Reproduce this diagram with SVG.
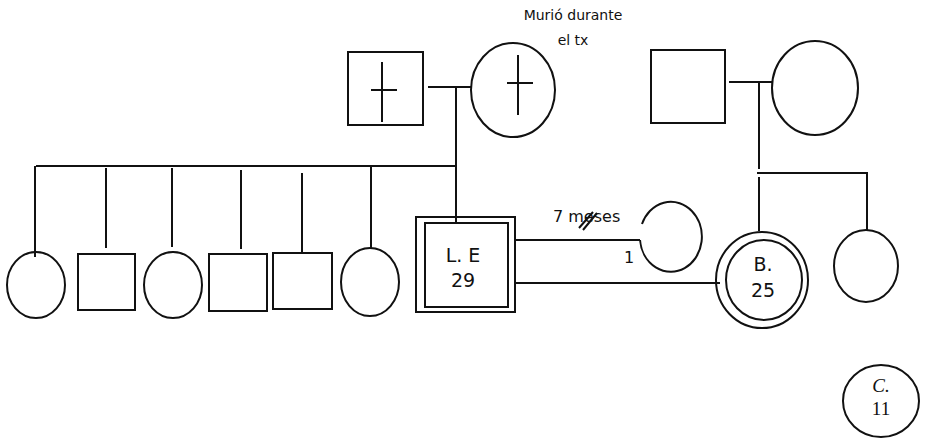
<svg xmlns="http://www.w3.org/2000/svg" width="928" height="440" viewBox="0 0 928 440">
<style>
.s{fill:none;stroke:#111;stroke-width:2}
.ln{fill:none;stroke:#111;stroke-width:2}
.t{font-family:"DejaVu Sans","Open Sans",sans-serif;fill:#111}
.c{font-family:"Liberation Serif",serif;fill:#111}
</style>
<rect width="928" height="440" fill="#fff"/>
<g id="connectors">
<path class="ln" d="M428 87H471"/>
<path class="ln" d="M456 87V223"/>
<path class="ln" d="M36 166H456"/>
<path class="ln" d="M35 166V257"/>
<path class="ln" d="M106 168V248"/>
<path class="ln" d="M172 168V247"/>
<path class="ln" d="M241 170V249"/>
<path class="ln" d="M302 173V253"/>
<path class="ln" d="M371 166V248"/>
<path class="ln" d="M729 82H772"/>
<path class="ln" d="M759 82V169"/>
<path class="ln" d="M757 173H867V231"/>
<path class="ln" d="M759 177V231"/>
<path class="ln" d="M515 240H640"/>
<path class="ln" d="M579 228L593 212M583 230L597 213"/>
<path class="ln" d="M515 283H720"/>
</g>
<g id="gf1">
<rect class="s" x="348" y="52" width="75" height="73"/>
<path class="ln" d="M382 62V122M371 90H397"/>
</g>
<g id="gm1">
<ellipse class="s" cx="513" cy="90" rx="42" ry="47"/>
<path class="ln" d="M518 55V115M507 83H533"/>
</g>
<g id="note">
<text class="t" x="573" y="20" font-size="14" text-anchor="middle">Murió durante</text>
<text class="t" x="573" y="45" font-size="14" text-anchor="middle">el tx</text>
</g>
<g id="gf2"><rect class="s" x="651" y="50" width="74" height="73"/></g>
<g id="gm2"><ellipse class="s" cx="815" cy="88" rx="43" ry="47"/></g>
<g id="s1"><ellipse class="s" cx="36" cy="285" rx="29" ry="33"/></g>
<g id="s2"><rect class="s" x="78" y="254" width="57" height="56"/></g>
<g id="s3"><ellipse class="s" cx="173" cy="285" rx="29" ry="33"/></g>
<g id="s4"><rect class="s" x="209" y="254" width="58" height="57"/></g>
<g id="s5"><rect class="s" x="273" y="253" width="59" height="56"/></g>
<g id="s6"><ellipse class="s" cx="370" cy="282" rx="29" ry="34"/></g>
<g id="le">
<rect class="s" x="416" y="217" width="99" height="95"/>
<rect class="s" x="425" y="223" width="83" height="84"/>
<text class="t" x="463" y="262" font-size="19" text-anchor="middle">L. E</text>
<text class="t" x="463" y="287" font-size="19" text-anchor="middle">29</text>
</g>
<g id="ex">
<path class="s" d="M642 224A31 35 0 1 1 640 240"/>
<text class="t" x="624" y="263" font-size="16">1</text>
<text class="t" x="553" y="222" font-size="16">7 meses</text>
</g>
<g id="b">
<ellipse class="s" cx="762" cy="280" rx="46" ry="48"/>
<ellipse class="s" cx="764" cy="280" rx="38" ry="40"/>
<text class="t" x="763" y="271" font-size="19" text-anchor="middle">B.</text>
<text class="t" x="763" y="297" font-size="19" text-anchor="middle">25</text>
</g>
<g id="sis"><ellipse class="s" cx="866" cy="266" rx="32" ry="36"/></g>
<g id="c">
<ellipse class="s" cx="881" cy="401" rx="38" ry="36"/>
<text class="c" x="881" y="392" font-size="19" font-style="italic" text-anchor="middle">C.</text>
<text class="c" x="881" y="415" font-size="19" text-anchor="middle">11</text>
</g>
</svg>
